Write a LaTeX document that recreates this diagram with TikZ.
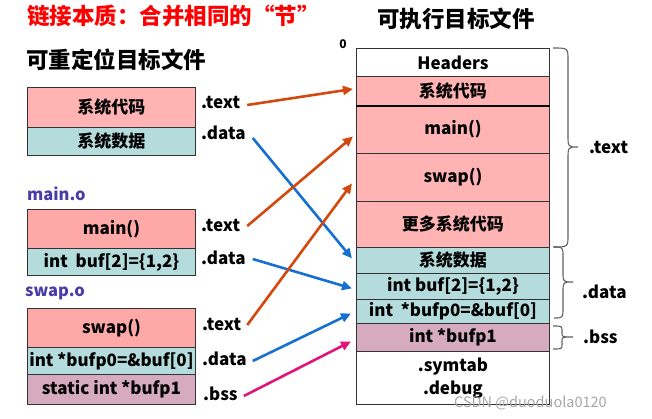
\documentclass[tikz,border=0pt]{standalone}
\usepackage{fontspec}
\setmainfont{Noto Sans CJK SC}
\usetikzlibrary{arrows.meta}
\definecolor{pinkc}{HTML}{FFB3B3}
\definecolor{pinkd}{HTML}{FFA8A8}
\definecolor{tealc}{HTML}{B5DCDC}
\definecolor{mauvec}{HTML}{D6AABF}
\definecolor{orgc}{HTML}{D4480E}
\definecolor{bluc}{HTML}{1570D2}
\definecolor{magc}{HTML}{E0157A}
\definecolor{purc}{HTML}{4A3CA8}
\definecolor{brc}{HTML}{606060}
\begin{document}
\begin{tikzpicture}[x=1pt,y=-1pt,
  box/.style={draw=black!80,line width=0.9pt,anchor=north west,inner sep=0pt,
    font=\fontsize{17}{19}\selectfont\bfseries,align=center},
  lbox/.style={box,minimum width=168pt},
  rbox/.style={box,minimum width=193pt},
  sec/.style={anchor=west,inner sep=0pt,font=\fontsize{17}{19}\selectfont\bfseries},
  conn/.style={line width=2.6pt,-{Triangle[length=10pt,width=9pt]}},
  brace/.style={draw=brc,line width=1.1pt}]
\useasboundingbox (0,0) rectangle (652,418);
% titles
\node[anchor=west,inner sep=0pt,text=red,font=\fontsize{22.5}{26}\selectfont\bfseries] (title) at (27,16) {链接本质：合并相同的“节”};
\node[anchor=west,inner sep=0pt,font=\fontsize{22.5}{26}\selectfont\bfseries] (reloc) at (26,60) {可重定位目标文件};
\node[inner sep=0pt,font=\fontsize{22.5}{26}\selectfont\bfseries] (exe) at (456,19) {可执行目标文件};
\node[anchor=west,inner sep=0pt,text=purc,font=\fontsize{16.5}{18}\selectfont\bfseries] (mainlbl) at (27,194) {main.o};
\node[anchor=west,inner sep=0pt,text=purc,font=\fontsize{16.5}{18}\selectfont\bfseries] (swaplbl) at (25,293) {swap.o};
% left boxes
\node[lbox,fill=pinkc,minimum height=40pt] (L1) at (27,87) {系统代码};
\node[lbox,fill=tealc,minimum height=28pt] (L2) at (27,127) {系统数据};
\node[lbox,fill=pinkd,minimum height=39pt] (M1) at (27,209) {main()};
\node[lbox,fill=tealc,minimum height=27pt] (M2) at (27,248) {int\ \ buf[2]=\{1,2\}};
\node[lbox,fill=pinkd,minimum height=39pt] (S1) at (27,308) {swap()};
\node[lbox,fill=tealc,minimum height=27pt] (S2) at (27,347) {int *bufp0=\&buf[0]};
\node[lbox,fill=mauvec,minimum height=30pt] (S3) at (27,374) {static int *bufp1};
% left section labels
\node[sec] (t1) at (201,102) {.text};
\node[sec] (d1) at (201,133) {.data};
\node[sec] (t2) at (201,225) {.text};
\node[sec] (d2) at (201,258) {.data};
\node[sec] (t3) at (202,324) {.text};
\node[sec] (d3) at (202,359) {.data};
\node[sec] (b3) at (203,394) {.bss};
% right column
\node[anchor=east,inner sep=0pt,font=\fontsize{12}{14}\selectfont\bfseries] (zero) at (347,44) {0};
\node[rbox,fill=white,minimum height=28pt] (R0) at (356,48) {Headers};
\node[rbox,fill=pinkc,minimum height=29pt] (R1) at (356,76) {系统代码};
\node[rbox,fill=pinkc,minimum height=48pt] (R2) at (356,105) {main()};
\node[rbox,fill=pinkc,minimum height=48pt] (R3) at (356,153) {swap()};
\node[rbox,fill=pinkc,minimum height=46pt] (R4) at (356,201) {更多系统代码};
\node[rbox,fill=tealc,minimum height=26pt] (R5) at (356,247) {系统数据};
\node[rbox,fill=tealc,minimum height=26pt] (R6) at (356,273) {int buf[2]=\{1,2\}};
\node[rbox,fill=tealc,minimum height=24pt] (R7) at (356,299) {int\ \ *bufp0=\&buf[0]};
\node[rbox,fill=mauvec,minimum height=28pt] (R8) at (356,323) {int *bufp1};
\node[rbox,fill=white,minimum height=53pt,font=\fontsize{17}{23}\selectfont\bfseries] (R9) at (356,351) {.symtab\\.debug};
\draw[line width=2.2pt] (R1.south west) -- (R1.south east);
% connectors
\draw[conn,orgc] ([xshift=7pt,yshift=-3pt]t1.east) -- ([shift={(-3,-2)}]R1.west);
\draw[conn,bluc] ([xshift=7pt,yshift=-5pt]d1.east) -- ([shift={(-4,-2)}]R5.west);
\draw[conn,orgc] ([xshift=7pt,yshift=-1pt]t2.east) -- ([shift={(-3,7)}]R2.west);
\draw[conn,bluc] ([xshift=7pt,yshift=-1pt]d2.east) -- ([shift={(-4,2)}]R6.west);
\draw[conn,orgc] ([xshift=6pt,yshift=-1pt]t3.east) -- ([shift={(-4,6)}]R3.west);
\draw[conn,bluc] ([xshift=6pt,yshift=-2pt]d3.east) -- ([shift={(-5,2)}]R7.west);
\draw[conn,magc] ([xshift=6pt,yshift=-2pt]b3.east) -- ([shift={(-5,4)}]R8.west);
% braces
\draw[brace] (553,48) .. controls (568,48) .. (568,60) -- (568,135) .. controls (568,147) .. (578,147)
  .. controls (568,147) .. (568,159) -- (568,235) .. controls (568,247) .. (553,247);
\draw[brace] (554,247) .. controls (563,247) .. (563,257) -- (563,272) .. controls (563,282) .. (573,282)
  .. controls (563,282) .. (563,292) -- (563,308) .. controls (563,318) .. (554,318);
\draw[brace] (553,326) .. controls (562,326) .. (562,331) -- (562,333) .. controls (562,337) .. (573,337)
  .. controls (562,337) .. (562,341) -- (562,344) .. controls (562,349) .. (553,349);
\node[sec] (tx) at (589,147) {.text};
\node[sec] (dx) at (582,292) {.data};
\node[sec] (bx) at (583,337) {.bss};
% watermark
\node[anchor=west,inner sep=0pt,text=black!35,font=\fontsize{14.5}{16}\selectfont] (wm) at (454,403) {CSDN @duoduola0120};
\end{tikzpicture}
\end{document}
